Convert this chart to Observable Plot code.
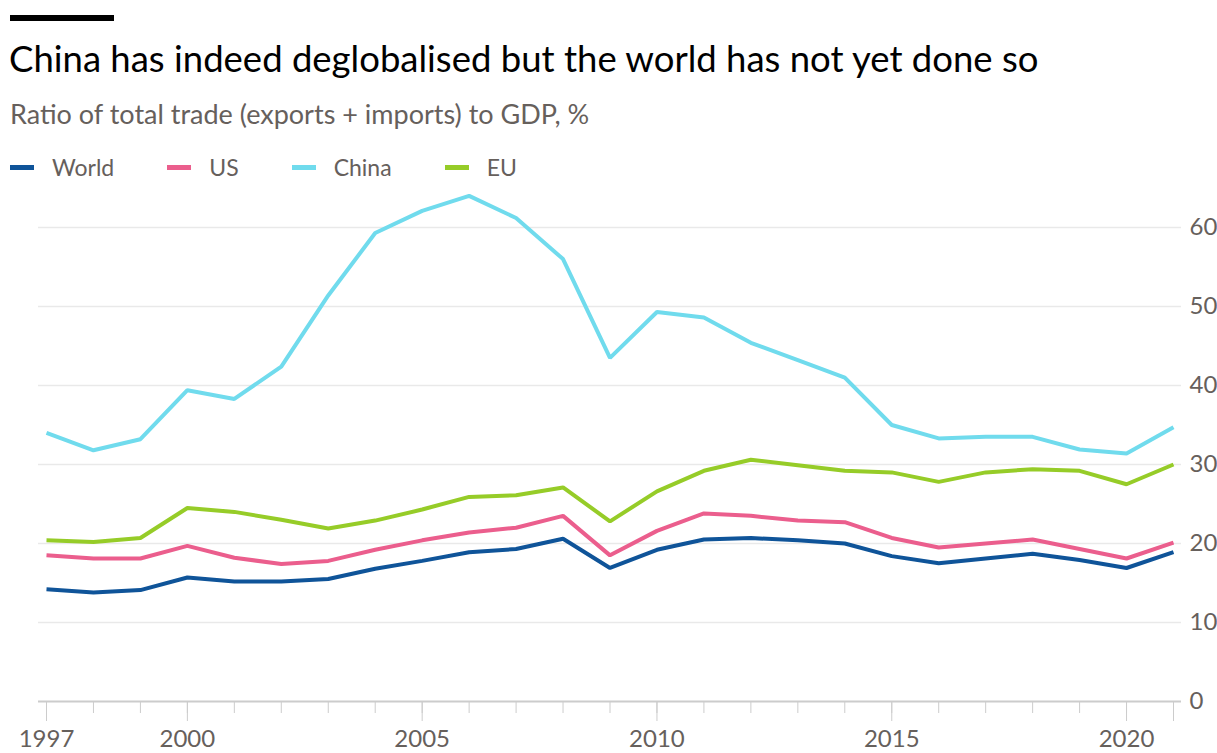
<!DOCTYPE html>
<html>
<head>
<meta charset="utf-8">
<script src="https://cdn.jsdelivr.net/npm/d3@7"></script>
<script src="https://cdn.jsdelivr.net/npm/@observablehq/plot@0.6"></script>
<style>
  html, body { margin: 0; padding: 0; background: #fff; }
  body { width: 1217px; height: 753px; overflow: hidden; font-family: Lato, "Noto Sans", sans-serif; }
  #header { position: relative; height: 190px; }
  #bar { position: absolute; left: 10px; top: 15px; width: 104px; height: 6px; background: #000; }
  #title { position: absolute; left: 9px; top: 37px; font-size: 36.5px; line-height: 42px; color: #000; white-space: nowrap; }
  #subtitle { position: absolute; left: 10px; top: 98px; font-size: 27px; line-height: 32px; color: #66605c; white-space: nowrap; }
  #legend { position: absolute; left: 10px; top: 152px; display: flex; font-size: 23px; line-height: 30px; color: #66605c; }
  .item { display: flex; align-items: center; margin-right: 53px; }
  .sw { width: 24px; height: 5px; margin-right: 18px; }
  #chart svg { display: block; }
</style>
</head>
<body>
<div id="header">
  <div id="bar"></div>
  <div id="title">China has indeed deglobalised but the world has not yet done so</div>
  <div id="subtitle">Ratio of total trade (exports + imports) to GDP, %</div>
  <div id="legend"></div>
</div>
<div id="chart"></div>
<script>
const years = [1997,1998,1999,2000,2001,2002,2003,2004,2005,2006,2007,2008,2009,2010,2011,2012,2013,2014,2015,2016,2017,2018,2019,2020,2021];
const world = [14.2,13.8,14.1,15.7,15.2,15.2,15.5,16.8,17.8,18.9,19.3,20.6,16.9,19.2,20.5,20.7,20.4,20.0,18.4,17.5,18.1,18.7,17.9,16.9,18.9];
const us    = [18.5,18.1,18.1,19.7,18.2,17.4,17.8,19.2,20.4,21.4,22.0,23.5,18.5,21.6,23.8,23.5,22.9,22.7,20.7,19.5,20.0,20.5,19.3,18.1,20.1];
const china = [34.0,31.8,33.2,39.4,38.3,42.4,51.4,59.3,62.1,64.0,61.2,56.0,43.5,49.3,48.6,45.4,43.2,41.0,35.0,33.3,33.5,33.5,31.9,31.4,34.7];
const eu    = [20.4,20.2,20.7,24.5,24.0,23.0,21.9,22.9,24.3,25.9,26.1,27.1,22.8,26.6,29.2,30.6,29.9,29.2,29.0,27.8,29.0,29.4,29.2,27.5,30.0];

const seriesNames = ["World","US","China","EU"];
const seriesColors = ["#0f5499","#eb5e8d","#70dbed","#96cc28"];
const seriesValues = [world, us, china, eu];

const yTicks = [0,10,20,30,40,50,60];
const xLabelYears = [1997,2000,2005,2010,2015,2020];
const xMajorTicks = [1997,2000,2005,2010,2015,2020,2021];

const legend = document.getElementById("legend");
seriesNames.forEach((n, i) => {
  const it = document.createElement("div");
  it.className = "item";
  it.innerHTML = `<span class="sw" style="background:${seriesColors[i]}"></span><span>${n}</span>`;
  legend.appendChild(it);
});

const data = [];
seriesNames.forEach((n, i) => years.forEach((y, j) => data.push({series: n, year: y, value: seriesValues[i][j]})));

const drawOrder = ["China","EU","US","World"];

const chart = Plot.plot({
  width: 1217,
  height: 563,
  marginTop: 37,
  marginBottom: 52,
  marginLeft: 46,
  marginRight: 44,
  style: {fontFamily: "Lato, 'Noto Sans', sans-serif", fontSize: "24px", background: "#fff"},
  x: {domain: [1997, 2021], label: null},
  y: {domain: [0, 60], label: null},
  marks: [
    Plot.ruleY(yTicks.filter(d => d > 0), {stroke: "#e9e9e9", strokeWidth: 1.5, insetLeft: -8, insetRight: -8}),
    Plot.axisX({ticks: years, tickSize: 12, tickFormat: () => "", stroke: "#cccccc", strokeOpacity: 1, label: null}),
    Plot.axisX({ticks: xMajorTicks, tickSize: 20, tickPadding: 8, tickFormat: d => xLabelYears.includes(d) ? String(d) : "", stroke: "#cccccc", strokeOpacity: 1, fill: "#66605c", fontSize: 24, label: null}),
    Plot.ruleY([0], {stroke: "#cccccc", strokeWidth: 2, insetLeft: -8, insetRight: -8}),
    Plot.axisY({anchor: "right", ticks: yTicks, tickSize: 0, tickPadding: 16, tickFormat: d => String(d), fill: "#66605c", fontSize: 24, textAnchor: "start", label: null}),
    ...drawOrder.map(n => Plot.line(data.filter(d => d.series === n), {
      x: "year", y: "value", stroke: seriesColors[seriesNames.indexOf(n)], strokeWidth: 4, strokeLinejoin: "miter", strokeLinecap: "butt"
    }))
  ]
});
document.getElementById("chart").appendChild(chart);
</script>
</body>
</html>
